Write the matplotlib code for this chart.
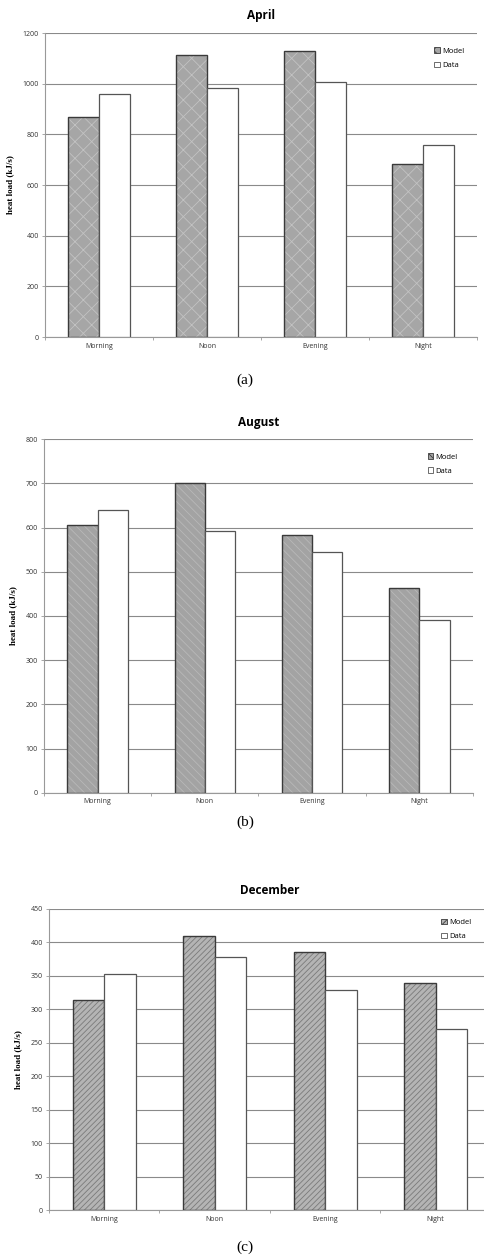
import numpy as np
import matplotlib
matplotlib.use('Agg')
import matplotlib.pyplot as plt

#%% Data
periods = ['Morning', 'Noon', 'Evening', 'Night']

april_model = [870, 1112, 1130, 683]
april_data = [960, 982, 1005, 757]

august_model = [606, 700, 584, 464]
august_data = [640, 593, 544, 390]

december_model = [314, 410, 386, 339]
december_data = [353, 378, 329, 271]

W, H = 485, 1257
fig = plt.figure(figsize=(W / 100, H / 100), dpi=100)

# panel settings: pixel box (left, right, top, bottom), y range, tick step, hatch look
panels = [
    dict(title='April', cap='(a)', model=april_model, data=april_data,
         box=(45, 477, 33, 337), ymax=1200, step=200, title_y=15, cap_y=380,
         face='#a6a6a6', hatch='xx', hcol='#c2c2c2', leg=(0.885, 0.975), bw=0.287),
    dict(title='August', cap='(b)', model=august_model, data=august_data,
         box=(44, 473, 439.3, 792.7), ymax=800, step=100, title_y=422.7, cap_y=822,
         face='#a3a3a3', hatch='\\\\\\\\', hcol='#b8b8b8', leg=(0.878, 0.98), bw=0.283),
    dict(title='December', cap='(c)', model=december_model, data=december_data,
         box=(49, 491, 908.7, 1210.3), ymax=450, step=50, title_y=890.7, cap_y=1247,
         face='#b4b4b4', hatch='//////', hcol='#7a7a7a', leg=(0.872, 0.99), bw=0.287),
]

x = np.arange(len(periods))
plt.rcParams['hatch.linewidth'] = 0.6

for p in panels:
    l, r, t, b = p['box']
    ax = fig.add_axes([l / W, 1 - b / H, (r - l) / W, (b - t) / H])
    bw = p['bw']

    # hatched model bars (hatch drawn in its own colour, outline on top)
    ax.bar(x - bw / 2, p['model'], bw, color=p['face'], edgecolor=p['hcol'],
           hatch=p['hatch'], linewidth=0, zorder=2)
    ax.bar(x - bw / 2, p['model'], bw, fill=False, edgecolor='#3a3a3a',
           linewidth=1.0, zorder=3)
    ax.bar(x + bw / 2, p['data'], bw, color='white', edgecolor='#555555',
           linewidth=0.9, zorder=3)

    # legend proxies
    h1 = plt.Rectangle((0, 0), 1, 1, facecolor=p['face'], edgecolor='#3a3a3a',
                       hatch=p['hatch'], linewidth=0.6)
    h2 = plt.Rectangle((0, 0), 1, 1, facecolor='white', edgecolor='#555555',
                       linewidth=0.6)
    ax.legend([h1, h2], ['Model', 'Data'], loc='upper left',
              bbox_to_anchor=p['leg'], frameon=False,
              handlelength=0.7, handleheight=0.7, handletextpad=0.3,
              labelspacing=0.9, prop={'family': 'Open Sans', 'size': 5.5})

    ax.set_xlim(-0.5, len(periods) - 0.5)
    ax.set_ylim(0, p['ymax'])
    ax.set_yticks(np.arange(0, p['ymax'] + 1, p['step']))
    ax.yaxis.grid(True, color='#8a8a8a', linewidth=0.8, zorder=1)
    ax.set_axisbelow(True)

    ax.set_xticks(x)
    ax.set_xticklabels(periods)
    ax.set_xticks(np.arange(-0.5, len(periods)), minor=True)
    ax.tick_params(axis='x', which='major', length=0, pad=4)
    ax.tick_params(axis='x', which='minor', length=2.5, color='#999999', width=0.6)
    ax.tick_params(axis='y', length=2.5, color='#999999', width=0.6, pad=2)
    for lab in ax.get_xticklabels() + ax.get_yticklabels():
        lab.set_fontfamily('Open Sans')
        lab.set_fontsize(5)
        lab.set_color('#333333')

    for s in ['top', 'right']:
        ax.spines[s].set_visible(False)
    for s in ['left', 'bottom']:
        ax.spines[s].set_color('#999999')
        ax.spines[s].set_linewidth(0.8)

    ax.set_ylabel('heat load (kJ/s)', fontfamily='Liberation Serif',
                  fontweight='bold', fontsize=6.5, labelpad=6)

    fig.text((l + r) / 2 / W, 1 - p['title_y'] / H, p['title'], ha='center',
             va='center', fontfamily='Open Sans', fontweight='bold', fontsize=8.5)
    fig.text(245 / W, 1 - p['cap_y'] / H, p['cap'], ha='center', va='center',
             fontfamily='Liberation Serif', fontsize=11)

plt.savefig('out.png', dpi=100)
